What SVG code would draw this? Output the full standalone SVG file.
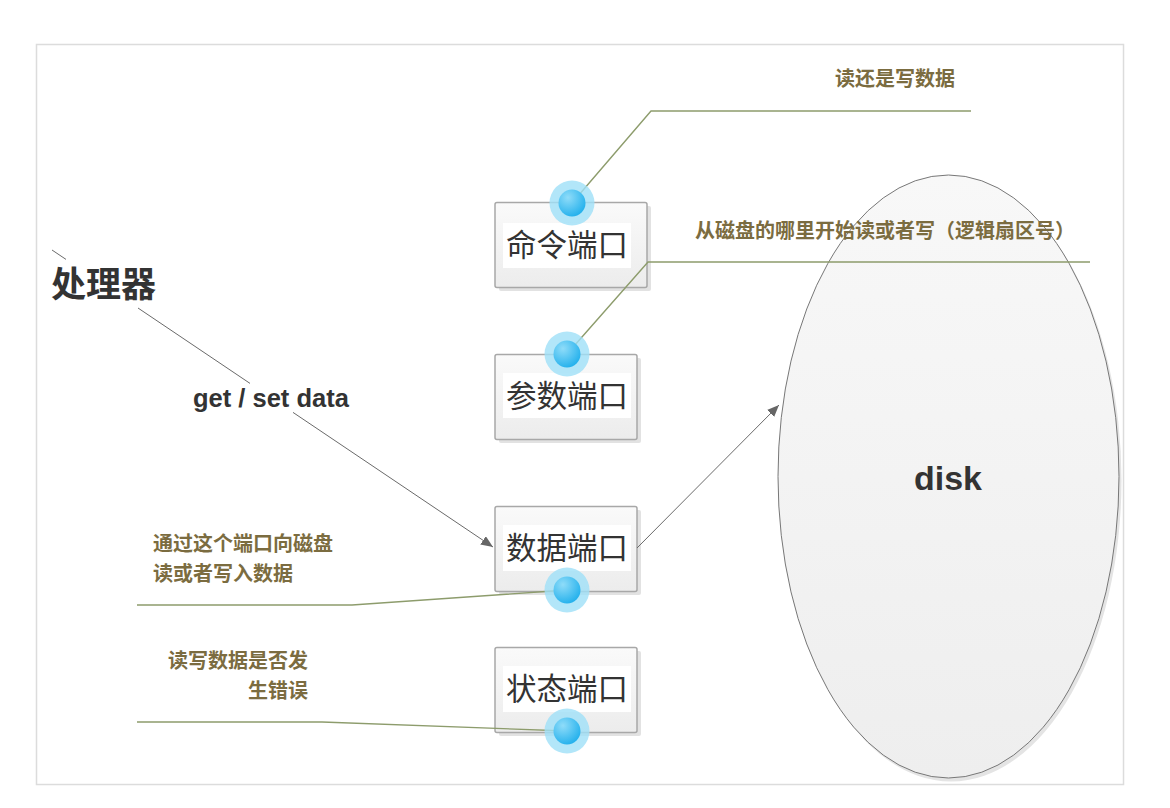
<svg xmlns="http://www.w3.org/2000/svg" width="1170" height="808" viewBox="0 0 1170 808">
<style>
.frame{fill:#fff;stroke:#dcdcdc;stroke-width:1.5}
.box{fill:url(#boxg);stroke:#a8a8a8;stroke-width:1.5}
.shadow{fill:#e2e2e2}
.tbg{fill:#fff}
.plabel{font-family:"Liberation Sans","Noto Sans CJK SC",sans-serif;font-size:30.5px;fill:#333;text-anchor:middle;dominant-baseline:central}
.note{font-family:"Liberation Sans","Noto Sans CJK SC",sans-serif;font-size:20px;font-weight:bold;fill:#7b6c40}
.callout{fill:none;stroke:#8d9c6c;stroke-width:1.4}
.conn{fill:none;stroke:#6a6a6a;stroke-width:1}
.halo{fill:#9fe0f8;opacity:0.8}
.core{fill:url(#ballg)}
.big{font-family:"Liberation Sans","Noto Sans CJK SC",sans-serif;font-weight:bold;fill:#333}
</style>
<defs>
<linearGradient id="boxg" x1="0" y1="0" x2="0" y2="1">
<stop offset="0" stop-color="#fafafa"/>
<stop offset="1" stop-color="#ececec"/>
</linearGradient>
<linearGradient id="diskg" x1="0" y1="0" x2="0" y2="1">
<stop offset="0" stop-color="#f8f8f8"/>
<stop offset="1" stop-color="#eeeeee"/>
</linearGradient>
<radialGradient id="ballg" cx="0.35" cy="0.3" r="0.75">
<stop offset="0" stop-color="#8fdcf9"/>
<stop offset="1" stop-color="#22b0ec"/>
</radialGradient>
<marker id="arr" viewBox="0 0 12 10" refX="12" refY="5" markerWidth="12" markerHeight="10" markerUnits="userSpaceOnUse" orient="auto">
<path d="M0,0 L12,5 L0,10 Z" fill="#666"/>
</marker>
</defs>
<rect class="frame" x="36.5" y="44.5" width="1087" height="740"/>

<g id="disk">
<ellipse cx="951" cy="480" rx="170.5" ry="301.5" fill="#e4e4e4"/>
<ellipse cx="948.5" cy="476.5" rx="170.5" ry="301.5" fill="url(#diskg)" stroke="#777" stroke-width="1"/>
<text class="big" x="948" y="490" font-size="34" text-anchor="middle">disk</text>
</g>

<g id="processor">
<text class="big" x="51" y="297" font-size="35">处理器</text>
</g>

<g id="cmd-port">
<rect class="shadow" x="499" y="206" width="152" height="85" rx="2"/>
<rect class="box" x="495" y="202.5" width="152" height="85" rx="2"/>
<rect class="tbg" x="503" y="223" width="128" height="45"/>
<text class="plabel" x="567" y="245">命令端口</text>
</g>

<g id="param-port">
<rect class="shadow" x="499" y="358" width="142" height="85" rx="2"/>
<rect class="box" x="495" y="354.5" width="142" height="85" rx="2"/>
<rect class="tbg" x="503" y="373" width="128" height="45"/>
<text class="plabel" x="567" y="396">参数端口</text>
</g>

<g id="data-port">
<rect class="shadow" x="499" y="510" width="142" height="85" rx="2"/>
<rect class="box" x="495" y="506.5" width="142" height="85" rx="2"/>
<rect class="tbg" x="503" y="525" width="128" height="46"/>
<text class="plabel" x="567" y="548">数据端口</text>
</g>

<g id="status-port">
<rect class="shadow" x="499" y="651" width="142" height="85" rx="2"/>
<rect class="box" x="495" y="647.5" width="142" height="85" rx="2"/>
<rect class="tbg" x="503" y="666" width="128" height="46"/>
<text class="plabel" x="567" y="689">状态端口</text>
</g>

<g id="connectors">
<path class="callout" d="M572,203 L651,111 L971,111"/>
<path class="callout" d="M567,354 L648,262 L1090,262"/>
<path class="callout" d="M567,590 L352,605 L137,605"/>
<path class="callout" d="M567,731 L322,722 L137,722"/>
<line class="conn" x1="52" y1="250" x2="66" y2="259.4"/>
<line class="conn" x1="138" y1="308" x2="250" y2="383.4"/>
<line class="conn" x1="293" y1="412.4" x2="493" y2="547" marker-end="url(#arr)"/>
<line class="conn" x1="637" y1="548" x2="779" y2="405" marker-end="url(#arr)"/>
<text class="big" x="193" y="407" font-size="25.5">get / set data</text>
</g>

<g id="cmd-dot">
<circle class="halo" cx="572" cy="203" r="22.5"/>
<circle class="core" cx="572" cy="203" r="13.5"/>
</g>
<g id="param-dot">
<circle class="halo" cx="567" cy="354" r="22.5"/>
<circle class="core" cx="567" cy="354" r="13.5"/>
</g>
<g id="data-dot">
<circle class="halo" cx="567" cy="590" r="22.5"/>
<circle class="core" cx="567" cy="590" r="13.5"/>
</g>
<g id="status-dot">
<circle class="halo" cx="567" cy="731" r="22.5"/>
<circle class="core" cx="567" cy="731" r="13.5"/>
</g>

<g id="notes">
<text class="note" x="835" y="86">读还是写数据</text>
<text class="note" x="695" y="238">从磁盘的哪里开始读或者写（逻辑扇区号）</text>
<text class="note" x="153" y="551">通过这个端口向磁盘</text>
<text class="note" x="153" y="581">读或者写入数据</text>
<text class="note" x="308" y="668" text-anchor="end">读写数据是否发</text>
<text class="note" x="308" y="698" text-anchor="end">生错误</text>
</g>
</svg>
